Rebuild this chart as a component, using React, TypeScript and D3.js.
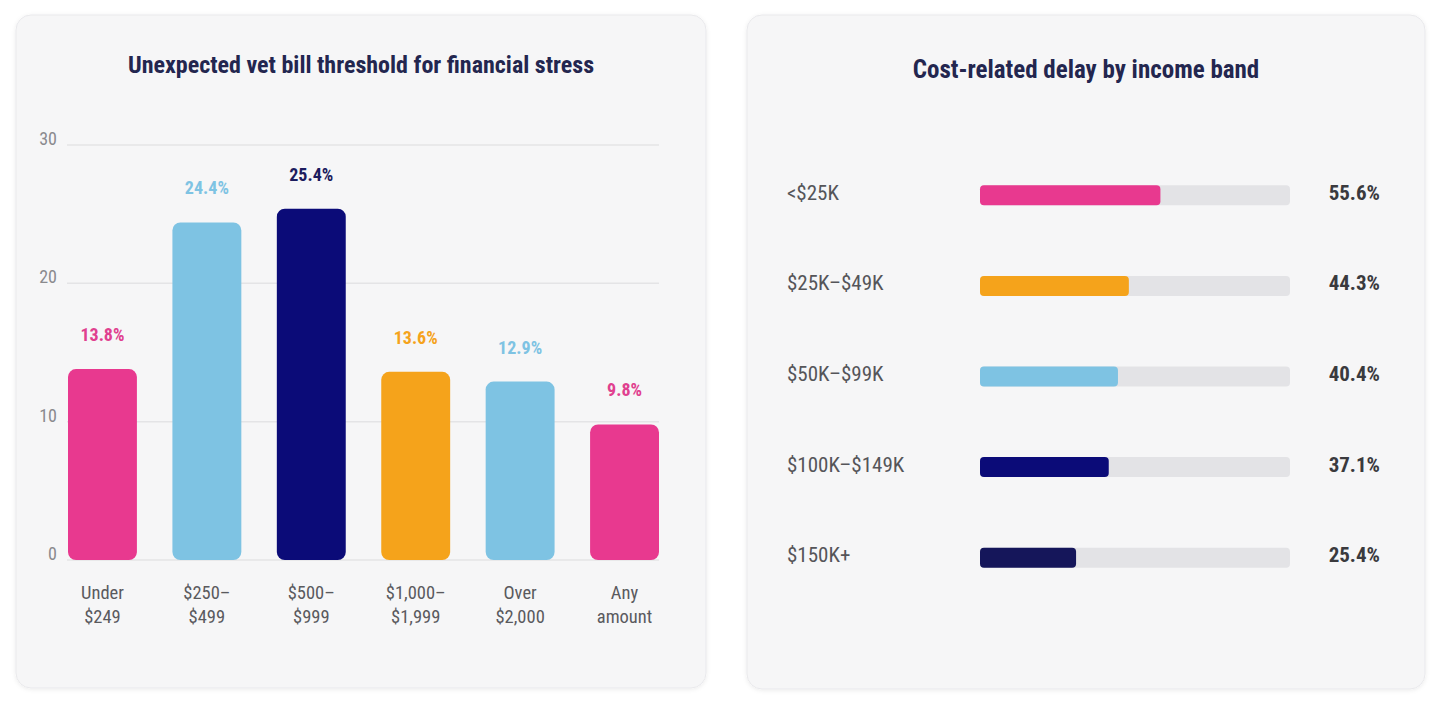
import React from 'react';
import * as d3 from 'd3';

// left chart: vet bill threshold
const thresholdLabels = [
  ['Under', '$249'],
  ['$250–', '$499'],
  ['$500–', '$999'],
  ['$1,000–', '$1,999'],
  ['Over', '$2,000'],
  ['Any', 'amount'],
];
const thresholdValues = [13.8, 24.4, 25.4, 13.6, 12.9, 9.8];
const thresholdColors = ['#e8398f', '#7ec3e3', '#0b0b78', '#f5a31b', '#7ec3e3', '#e8398f'];
const thresholdLabelColors = ['#e0408f', '#7ec3e3', '#1c1c5e', '#f5a31b', '#7ec3e3', '#e0408f'];
const yTicks = [0, 10, 20, 30];

// right chart: delay by income band
const incomeBands = ['<$25K', '$25K–$49K', '$50K–$99K', '$100K–$149K', '$150K+'];
const delayValues = [55.6, 44.3, 40.4, 37.1, 25.4];
const delayColors = ['#e8398f', '#f5a31b', '#7ec3e3', '#0b0b78', '#15165a'];

const FONT = '"Roboto Condensed", "Liberation Sans Narrow", "DejaVu Sans Condensed", Roboto, sans-serif';
const TITLE = '#23264f';

function Card({ x, y, w, h }: { x: number; y: number; w: number; h: number }) {
  return (
    <rect
      x={x}
      y={y}
      width={w}
      height={h}
      rx={15}
      fill="#f6f6f7"
      stroke="#e9e9ec"
      filter="url(#shadow)"
    />
  );
}

function ThresholdChart() {
  const x = d3
    .scaleBand()
    .domain(thresholdLabels.map((d) => d.join(' ')))
    .range([68, 659])
    .paddingInner(0.34)
    .paddingOuter(0);
  const y = d3.scaleLinear().domain([0, 30]).range([560, 145]);

  return (
    <g>
      <Card x={16} y={15} w={690} h={673} />
      <text
        x={361}
        y={73}
        textAnchor="middle"
        fontFamily={FONT}
        fontWeight="bold"
        fontSize={24}
        fill={TITLE}
      >
        Unexpected vet bill threshold for financial stress
      </text>
      {yTicks.map((t) => (
        <g key={t}>
          <line x1={67} x2={659} y1={y(t)} y2={y(t)} stroke="#e4e4e6" strokeWidth={1.5} />
          <text
            x={57}
            y={y(t)}
            textAnchor="end"
            fontFamily={FONT}
            fontSize={18}
            fill="#8a8a8e"
          >
            {t}
          </text>
        </g>
      ))}
      {thresholdValues.map((v, i) => {
        const key = thresholdLabels[i].join(' ');
        const bx = x(key)!;
        const bw = x.bandwidth();
        return (
          <g key={key}>
            <rect x={bx} y={y(v)} width={bw} height={y(0) - y(v)} rx={8} fill={thresholdColors[i]} />
            <text
              x={bx + bw / 2}
              y={y(v) - 28}
              textAnchor="middle"
              fontFamily={FONT}
              fontWeight="bold"
              fontSize={18}
              fill={thresholdLabelColors[i]}
            >
              {v.toFixed(1)}%
            </text>
            {thresholdLabels[i].map((line, j) => (
              <text
                key={j}
                x={bx + bw / 2}
                y={599 + j * 24}
                textAnchor="middle"
                fontFamily={FONT}
                fontSize={18.5}
                fill="#5a5a5e"
              >
                {line}
              </text>
            ))}
          </g>
        );
      })}
    </g>
  );
}

function DelayChart() {
  const y = d3.scaleBand().domain(incomeBands).range([150, 603]).padding(0);
  // fill length: track spans a bit past both ends of 0–100
  const x = d3.scaleLinear().domain([-9, 102]).range([980, 1290]);

  return (
    <g>
      <Card x={747} y={15} w={678} h={674} />
      <text
        x={1086}
        y={78}
        textAnchor="middle"
        fontFamily={FONT}
        fontWeight="bold"
        fontSize={25}
        fill={TITLE}
      >
        Cost-related delay by income band
      </text>
      {incomeBands.map((band, i) => {
        const cy = y(band)! + y.bandwidth() / 2;
        const v = delayValues[i];
        return (
          <g key={band}>
            <text x={787} y={cy + 4.5} fontFamily={FONT} fontSize={21} fill="#555559">
              {band}
            </text>
            <rect x={x(-9)} y={cy - 10} width={x(102) - x(-9)} height={20} rx={4} fill="#e3e3e6" />
            <rect x={x(-9)} y={cy - 10} width={x(v) - x(-9)} height={20} rx={4} fill={delayColors[i]} />
            <text
              x={1380}
              y={cy + 4.5}
              textAnchor="end"
              fontFamily={FONT}
              fontWeight="bold"
              fontSize={21}
              fill="#3a3a3e"
            >
              {v.toFixed(1)}%
            </text>
          </g>
        );
      })}
    </g>
  );
}

export default function App() {
  return (
    <svg
      width={1440}
      height={706}
      style={{ position: 'absolute', left: 0, top: 0, background: '#ffffff' }}
    >
      <defs>
        <filter id="shadow" x="-5%" y="-5%" width="110%" height="110%">
          <feDropShadow dx={0} dy={1} stdDeviation={2} floodColor="#000" floodOpacity={0.08} />
        </filter>
      </defs>
      <ThresholdChart />
      <DelayChart />
    </svg>
  );
}
